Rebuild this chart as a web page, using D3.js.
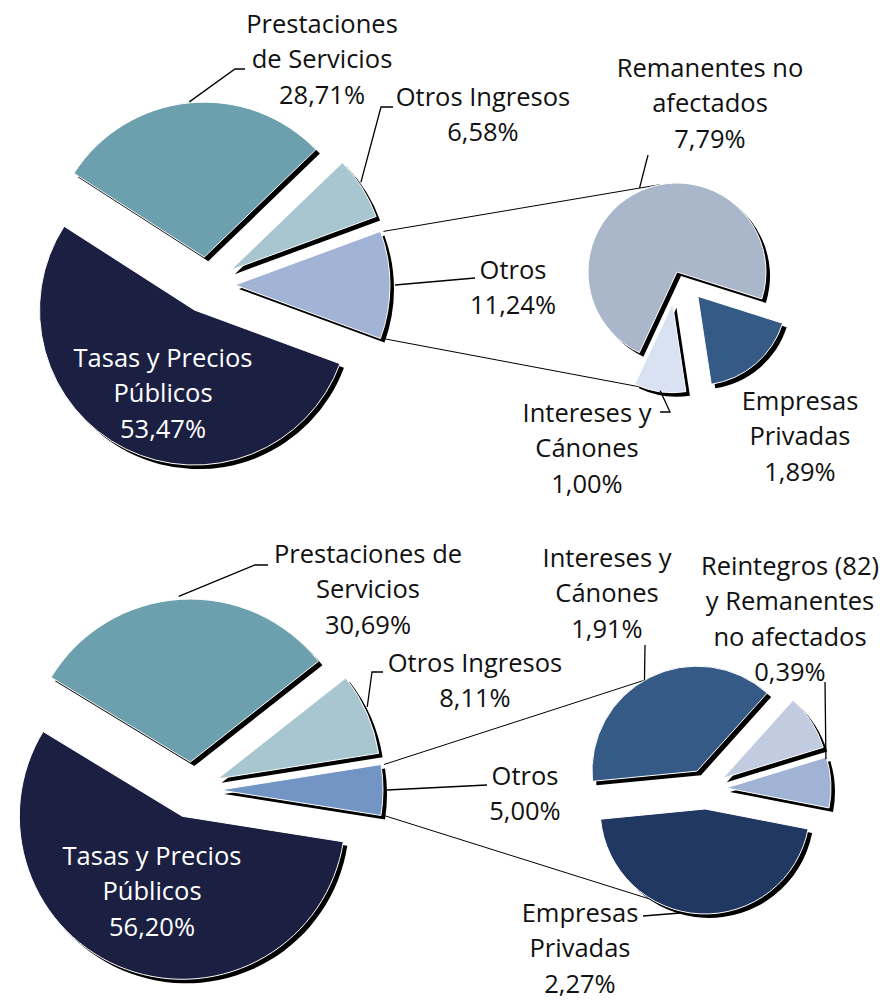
<!DOCTYPE html>
<html>
<head>
<meta charset="utf-8">
<script src="https://cdn.jsdelivr.net/npm/d3@7"></script>
<style>
  body { margin: 0; background: #fff; }
</style>
</head>
<body>
<div id="chart"></div>
<script>
// ---- datos: gráfico superior ----
const mainCats1 = ["Otros", "Tasas y Precios Públicos", "Prestaciones de Servicios", "Otros Ingresos"];
const mainVals1 = [11.24, 53.47, 28.71, 6.58];
const mainText1 = [["Otros"], ["Tasas y Precios", "Públicos"], ["Prestaciones", "de Servicios"], ["Otros Ingresos"]];
const subCats1 = ["Empresas Privadas", "Intereses y Cánones", "Remanentes no afectados"];
const subVals1 = [1.89, 1.00, 7.79];
const subText1 = [["Empresas", "Privadas"], ["Intereses y", "Cánones"], ["Remanentes no", "afectados"]];

// ---- datos: gráfico inferior ----
const mainCats2 = ["Otros", "Tasas y Precios Públicos", "Prestaciones de Servicios", "Otros Ingresos"];
const mainVals2 = [5.00, 56.20, 30.69, 8.11];
const mainText2 = [["Otros"], ["Tasas y Precios", "Públicos"], ["Prestaciones de", "Servicios"], ["Otros Ingresos"]];
const subCats2 = ["Empresas Privadas", "Intereses y Cánones", "Resto", "Reintegros (82) y Remanentes no afectados"];
const subVals2 = [2.27, 1.91, 0.43, 0.39];
const subText2 = [["Empresas", "Privadas"], ["Intereses y", "Cánones"], null, ["Reintegros (82)", "y Remanentes", "no afectados"]];

const fmt = v => v.toFixed(2).replace(".", ",") + "%";
const rad = d => d * Math.PI / 180;

const svg = d3.select("#chart").append("svg")
    .attr("width", 885)
    .attr("height", 1000);

// layout de cada gráfico
const charts = [
  {
    mainVals: mainVals1, mainText: mainText1, subVals: subVals1, subText: subText1,
    main: {cx: 207, cy: 285, r: 155, explode: [28, 28, 28, 28],
           colors: ["#a2b4d5", "#1b1f41", "#6ca0ae", "#a8c6cf"]},
    sub: {cx: 677, cy: 272, r: 89, start: 107.6, explode: [32, 32, 0],
          colors: ["#355a85", "#d9e2f3", "#aab6c9"]},
    connectors: [{slice: 2, a: 349}, {slice: 1, a: 200}],
    mainLabels: [
      {x: 513, y: 279, leader: {a: 90, r: 160, pts: [[475, 278]]}},
      {x: 163, y: 367, white: true},
      {x: 322, y: 33, leader: {a: 354.5, r: 156, pts: [[235, 69], [245, 69]]}},
      {x: 483, y: 106, leader: {a: 56, r: 157, pts: [[381, 107], [393, 107]]}}
    ],
    subLabels: [
      {x: 800, y: 410},
      {x: 587, y: 422, leader: {a: 188, r: 88, pts: [[670, 412], [660, 412]]}},
      {x: 710, y: 77, leader: {a: 336, r: 92, pts: [[648, 155]]}}
    ]
  },
  {
    mainVals: mainVals2, mainText: mainText2, subVals: subVals2, subText: subText2,
    main: {cx: 192, cy: 790, r: 163, explode: [28, 28, 28, 28],
           colors: ["#7395c6", "#1b1f41", "#6ca0ae", "#a8c6cf"]},
    sub: {cx: 706, cy: 789, r: 105, start: 101, explode: [20, 20, 20, 20],
          colors: ["#213863", "#355a85", "#c1cce1", "#a1b3d5"]},
    connectors: [{slice: 1, a: 330}, {slice: 0, a: 210}],
    mainLabels: [
      {x: 525, y: 785, leader: {a: 90, r: 167, pts: [[487, 785]]}},
      {x: 152, y: 865, white: true},
      {x: 368, y: 563, leader: {a: 356, r: 166, pts: [[255, 565], [268, 565]]}},
      {x: 475, y: 672, leader: {a: 64.3, r: 166, pts: [[372, 672], [383, 672]]}}
    ],
    subLabels: [
      {x: 580, y: 922, leader: {a: 193.5, r: 107, pts: [[643, 916]]}},
      {x: 607, y: 567, leader: {a: 330, r: 105, pts: [[645, 645]]}},
      null,
      {x: 790, y: 575, leader: {a: 74, r: 104, pts: [[825, 682]]}}
    ]
  }
];

function drawPie(g, vals, cfg, startDeg) {
  const pie = d3.pie().sort(null)
      .startAngle(rad(startDeg))
      .endAngle(rad(startDeg) + 2 * Math.PI);
  const arcs = pie(vals);
  const arc = d3.arc().innerRadius(0).outerRadius(cfg.r);
  // origen de cada porción desplazada
  arcs.forEach((d, i) => {
    const m = (d.startAngle + d.endAngle) / 2;
    d.ox = cfg.cx + cfg.explode[i] * Math.sin(m);
    d.oy = cfg.cy - cfg.explode[i] * Math.cos(m);
  });

  // sombras
  g.selectAll(null).data(arcs).join("path")
      .attr("d", arc)
      .attr("transform", d => `translate(${d.ox + 4},${d.oy + 4})`)
      .attr("fill", "#000");

  g.selectAll(null).data(arcs).join("path")
      .attr("d", arc)
      .attr("transform", d => `translate(${d.ox},${d.oy})`)
      .attr("fill", (d, i) => cfg.colors[i])
      .attr("stroke", "#fff")
      .attr("stroke-width", 1);

  return arcs;
}

const ptOn = (d, a, r) => [d.ox + r * Math.sin(rad(a)), d.oy - r * Math.cos(rad(a))];

function drawLabel(g, d, lines, val, lab) {
  if (!lab) return;
  if (lab.leader) {
    const p0 = ptOn(d, lab.leader.a, lab.leader.r);
    g.append("path")
        .attr("d", d3.line()([p0, ...lab.leader.pts]))
        .attr("fill", "none")
        .attr("stroke", "#000")
        .attr("stroke-width", 1.3);
  }
  const t = g.append("text")
      .attr("text-anchor", "middle")
      .attr("font-family", "Open Sans")
      .attr("font-size", "25.5px")
      .attr("fill", lab.white ? "#fff" : "#111");
  [...lines, fmt(val)].forEach((s, k) => {
    t.append("tspan")
        .attr("x", lab.x)
        .attr("y", lab.y + k * 35.3)
        .text(s);
  });
}

charts.forEach(c => {
  const g = svg.append("g");
  const startMain = 90 - (c.mainVals[0] / d3.sum(c.mainVals)) * 180;

  const lines = g.append("g");
  const mainArcs = drawPie(g.append("g"), c.mainVals, c.main, startMain);
  const subArcs = drawPie(g.append("g"), c.subVals, c.sub, c.sub.start);

  // líneas de conexión entre "Otros" y la tarta secundaria
  const otros = mainArcs[0];
  const ends = [otros.startAngle, otros.endAngle].map(a => [
    otros.ox + c.main.r * Math.sin(a), otros.oy - c.main.r * Math.cos(a)]);
  c.connectors.forEach((k, i) => {
    const p = ptOn(subArcs[k.slice], k.a, c.sub.r);
    lines.append("line")
        .attr("x1", ends[i][0] + 3).attr("y1", ends[i][1])
        .attr("x2", p[0]).attr("y2", p[1])
        .attr("stroke", "#000")
        .attr("stroke-width", 1);
  });

  const lab = g.append("g");
  mainArcs.forEach((d, i) => drawLabel(lab, d, c.mainText[i], c.mainVals[i], c.mainLabels[i]));
  subArcs.forEach((d, i) => {
    if (c.subText[i]) drawLabel(lab, d, c.subText[i], c.subVals[i], c.subLabels[i]);
  });
});
</script>
</body>
</html>
